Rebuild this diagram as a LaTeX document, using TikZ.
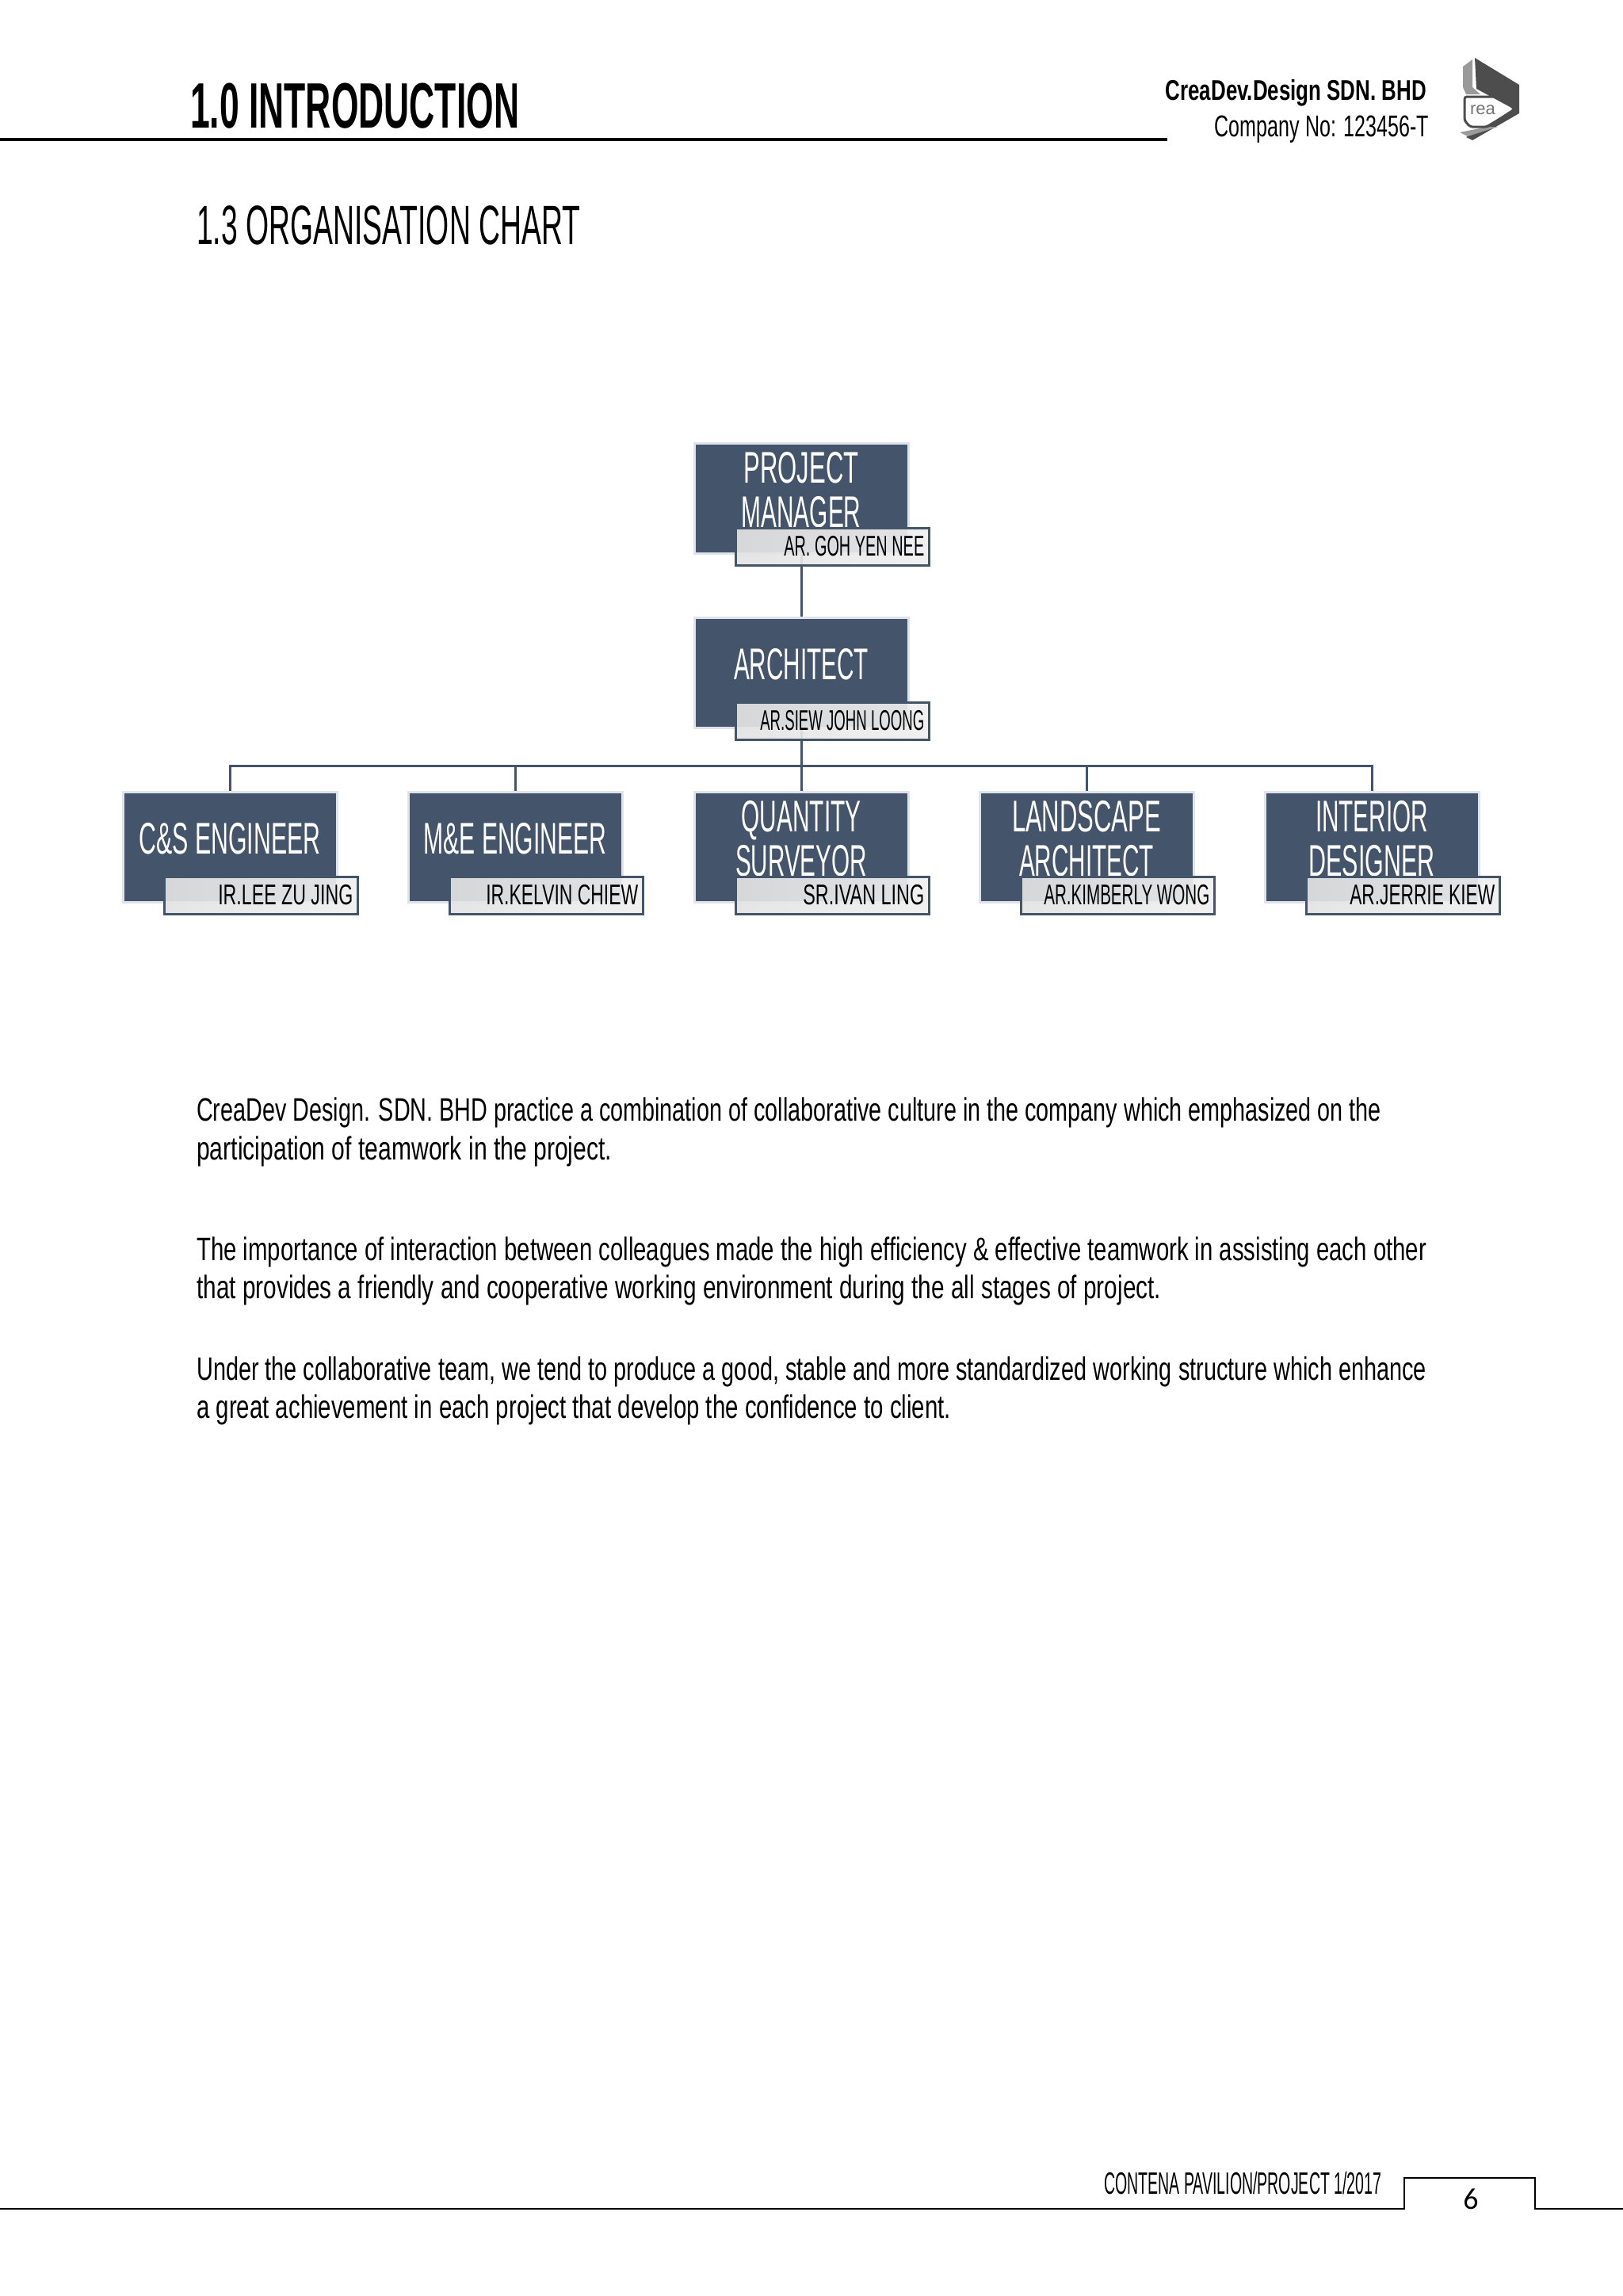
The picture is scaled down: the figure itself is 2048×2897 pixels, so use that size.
\documentclass[tikz,border=0pt]{standalone}
\usepackage{fontspec}
\usepackage{graphicx}
\setmainfont{Liberation Sans}
\newfontfamily\pagenofont{Carlito}
\usetikzlibrary{shadings}

\definecolor{slatefill}{HTML}{44546A}
\definecolor{slateedge}{HTML}{DFE4EC}
\definecolor{logodark}{HTML}{4D4D4D}
\definecolor{logolight}{HTML}{9A9A9A}

\tikzset{
	rolebox/.style={rectangle, fill=slatefill, draw=slateedge, line width=3pt, minimum width=270pt, minimum height=139pt, inner sep=0pt},
	roletext/.style={text=white, align=center, inner sep=0pt, font=\fontsize{56}{56}\selectfont},
	nametag/.style={rectangle, draw=slatefill, line width=3pt, left color=black!11, right color=black!6, fill opacity=0.92, text opacity=1, minimum width=244pt, minimum height=47pt, inner sep=0pt, anchor=south east},
	nametext/.style={text=black, inner sep=0pt, anchor=base east, font=\fontsize{36}{36}\selectfont},
	orgline/.style={draw=slatefill, line width=3pt},
	bodyline/.style={inner sep=0pt, anchor=base west, font=\fontsize{41}{41}\selectfont},
	rulethick/.style={line width=4pt, draw=black},
	rulethin/.style={line width=2pt, draw=black},
}

\newcommand{\fitw}[2]{\resizebox{#1pt}{\height}{#2}}

\newcommand{\placerole}[4]{
	\node[rolebox] (#1) at (#2, #3) {};
	\node[roletext] (#1text) at ([yshift=11pt]#1.center) {#4};
}

\newcommand{\placename}[3]{
	\node[nametag] (#1tag) at ([shift={(26pt,-15pt)}]#1.south east) {};
	\node[nametext] (#1name) at ([shift={(-7pt,-11pt)}]#1tag.east) {\fitw{#2}{#3}};
}

\newcommand{\placebody}[4]{
	\node[bodyline] (#1) at (248, #2) {\fitw{#3}{#4}};
}

\begin{document}
\begin{tikzpicture}[x=1pt, y=-1pt]
\useasboundingbox (0,0) rectangle (2048,2897);

% header
\node[inner sep=0pt, anchor=base west, font=\fontsize{81}{81}\selectfont\bfseries] (chapter) at (240,161) {\fitw{415}{1.0 INTRODUCTION}};
\coordinate (rulea) at (0,176);
\coordinate (ruleb) at (1473,176);
\draw[rulethick] (rulea) -- (ruleb);
\node[inner sep=0pt, anchor=base east, font=\fontsize{36}{36}\selectfont\bfseries] (company) at (1800,126) {\fitw{329}{CreaDev.Design SDN. BHD}};
\node[inner sep=0pt, anchor=base east, font=\fontsize{38}{38}\selectfont] (companyno) at (1803,172) {\fitw{270}{Company No: 123456-T}};

% logo
\fill[logolight] (1846,84) -- (1858,75) -- (1858,110) -- (1868,119) -- (1850,119) -- (1846,110) -- cycle;
\fill[logodark] (1861,73) -- (1917,107) -- (1917,143) -- (1858,177) -- (1850,173) -- (1911,138) -- (1863,112) -- cycle;
\fill[logolight] (1842,167) -- (1877,160) -- (1890,160) -- (1852,172) -- cycle;
\draw[logodark, line width=3pt, rounded corners=3pt] (1848,122) -- (1896,122) -- (1911,138) -- (1877,160) -- (1855,160) -- (1848,152) -- cycle;
\node[text=black!55, inner sep=0pt, font=\fontsize{22}{22}\selectfont] (logotext) at (1871,139) {rea};

\node[inner sep=0pt, anchor=base west, font=\fontsize{70}{70}\selectfont] (section) at (248,308) {\fitw{484}{1.3 ORGANISATION CHART}};

% chart
\placerole{pm}{1011}{629}{\fitw{145}{PROJECT}\\\fitw{151}{MANAGER}}
\placerole{arch}{1011}{849}{\fitw{170}{ARCHITECT}}
\placerole{cs}{290}{1069}{\fitw{229}{C\&S ENGINEER}}
\placerole{me}{650}{1069}{\fitw{231}{M\&E ENGINEER}}
\placerole{qs}{1011}{1069}{\fitw{151}{QUANTITY}\\\fitw{166}{SURVEYOR}}
\placerole{la}{1371}{1069}{\fitw{188}{LANDSCAPE}\\\fitw{170}{ARCHITECT}}
\placerole{id}{1731}{1069}{\fitw{142}{INTERIOR}\\\fitw{159}{DESIGNER}}

\coordinate (bus) at (1011,966);
\draw[orgline] (pm.south) -- (arch.north);
\draw[orgline] (arch.south) -- (qs.north);
\draw[orgline] (cs.north) |- (bus);
\draw[orgline] (me.north) |- (bus);
\draw[orgline] (la.north) |- (bus);
\draw[orgline] (id.north) |- (bus);

\placename{pm}{177}{AR. GOH YEN NEE}
\placename{arch}{207}{AR.SIEW JOHN LOONG}
\placename{cs}{170}{IR.LEE ZU JING}
\placename{me}{192}{IR.KELVIN CHIEW}
\placename{qs}{153}{SR.IVAN LING}
\placename{la}{209}{AR.KIMBERLY WONG}
\placename{id}{183}{AR.JERRIE KIEW}

% text
\placebody{linea}{1414}{1495}{CreaDev Design. SDN. BHD practice a combination of collaborative culture in the company which emphasized on the}
\placebody{lineb}{1463}{524}{participation of teamwork in the project.}
\placebody{linec}{1590}{1552}{The importance of interaction between colleagues made the high efficiency \& effective teamwork in assisting each other}
\placebody{lined}{1638}{1217}{that provides a friendly and cooperative working environment during the all stages of project.}
\placebody{linee}{1741}{1552}{Under the collaborative team, we tend to produce a good, stable and more standardized working structure which enhance}
\placebody{linef}{1789}{952}{a great achievement in each project that develop the confidence to client.}

% footer
\node[inner sep=0pt, anchor=base west, font=\fontsize{39}{39}\selectfont] (footer) at (1393,2768) {\fitw{350}{CONTENA PAVILION/PROJECT 1/2017}};
\coordinate (foota) at (0,2787);
\coordinate (footb) at (1772,2787);
\coordinate (footc) at (1772,2748);
\coordinate (footd) at (1937,2748);
\coordinate (foote) at (1937,2787);
\coordinate (footf) at (2048,2787);
\draw[rulethin] (foota) -- (footb) -- (footc) -- (footd) -- (foote) -- (footf);
\node[inner sep=0pt, font=\pagenofont\fontsize{38}{38}\selectfont] (pageno) at (1856,2775) {6};
\end{tikzpicture}
\end{document}
